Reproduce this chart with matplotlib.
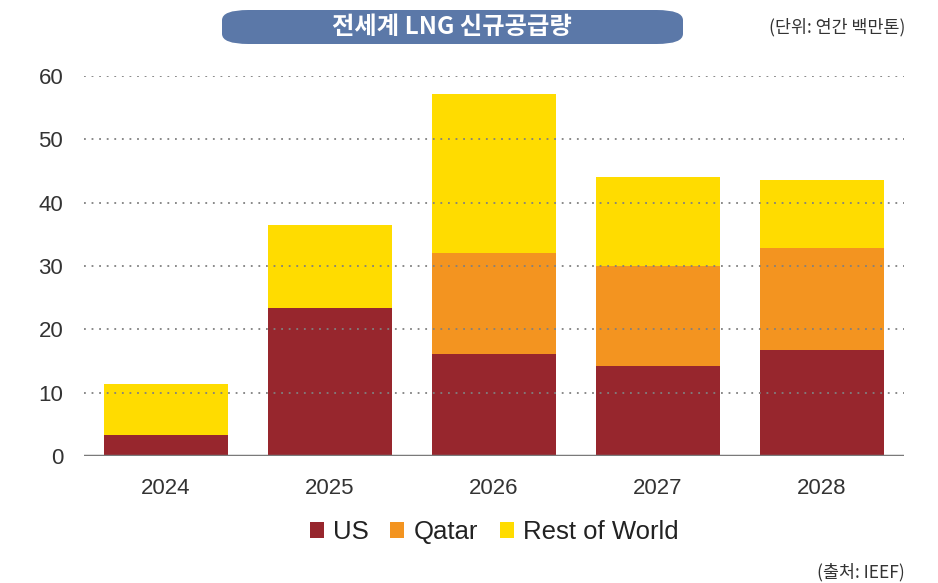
import matplotlib.pyplot as plt
import numpy as np
from matplotlib.patches import FancyBboxPatch

plt.rcParams["font.family"] = ["Liberation Sans", "Noto Sans CJK KR", "DejaVu Sans"]

years = ["2024", "2025", "2026", "2027", "2028"]
us = [3.3, 23.4, 16.1, 14.2, 16.7]
qatar = [0.0, 0.0, 15.9, 15.8, 16.1]
rest_of_world = [8.1, 13.1, 25.2, 14.1, 10.8]

colors = ["#97262D", "#F39420", "#FFDC00"]
labels = ["US", "Qatar", "Rest of World"]

fig = plt.figure(figsize=(9.38, 5.83), dpi=100)
ax = fig.add_axes([0.0896, 0.2178, 0.8742, 0.6518])

x = np.arange(len(years))
bottom = np.zeros(len(years))
for vals, c, lab in zip([us, qatar, rest_of_world], colors, labels):
    ax.bar(x, vals, width=0.756, bottom=bottom, color=c, label=lab, zorder=2)
    bottom += np.array(vals)

ax.set_xlim(-0.5, 4.5)
ax.set_ylim(0, 60)
ax.set_yticks(range(0, 61, 10))
ax.set_xticks(x)
ax.set_xticklabels(years)
ax.tick_params(axis="both", length=0, labelsize=16, colors="#333333")
ax.tick_params(axis="y", pad=15)
ax.tick_params(axis="x", pad=16)

for v in range(10, 61, 10):
    ax.axhline(v, color="#808080", lw=1.3, ls=(0, (1, 3.2)), zorder=3)
ax.axhline(0, color="#7a7a7a", lw=2.5, zorder=4)

for s in ax.spines.values():
    s.set_visible(False)

# title box
box = FancyBboxPatch((222 / 938, 1 - 44 / 583), (683 - 222) / 938, 34 / 583,
                     boxstyle="round,pad=0,rounding_size=0.028",
                     transform=fig.transFigure, facecolor="#5B78A8",
                     edgecolor="none", mutation_aspect=583 / 938)
fig.patches.append(box)
fig.text(452 / 938, 1 - 27 / 583, "전세계 LNG 신규공급량", color="white",
         fontsize=17.5, fontweight="bold", ha="center", va="center",
         family=["Noto Sans CJK KR", "DejaVu Sans"])
fig.text(905 / 938, 1 - 27 / 583, "(단위: 연간 백만톤)", color="#333333",
         fontsize=12.5, ha="right", va="center",
         family=["Noto Sans CJK KR", "DejaVu Sans"])
fig.text(905 / 938, 1 - 572 / 583, "(출처: IEEF)", color="#333333",
         fontsize=12.5, ha="right", va="center",
         family=["Noto Sans CJK KR", "DejaVu Sans"])

fig.legend(loc="center", bbox_to_anchor=(494 / 938, 1 - 532 / 583), ncol=3,
           frameon=False, fontsize=18.5, handlelength=0.55, handleheight=0.55,
           handletextpad=0.35, columnspacing=0.85, labelcolor="#222222")

plt.savefig("out.png", dpi=100)
